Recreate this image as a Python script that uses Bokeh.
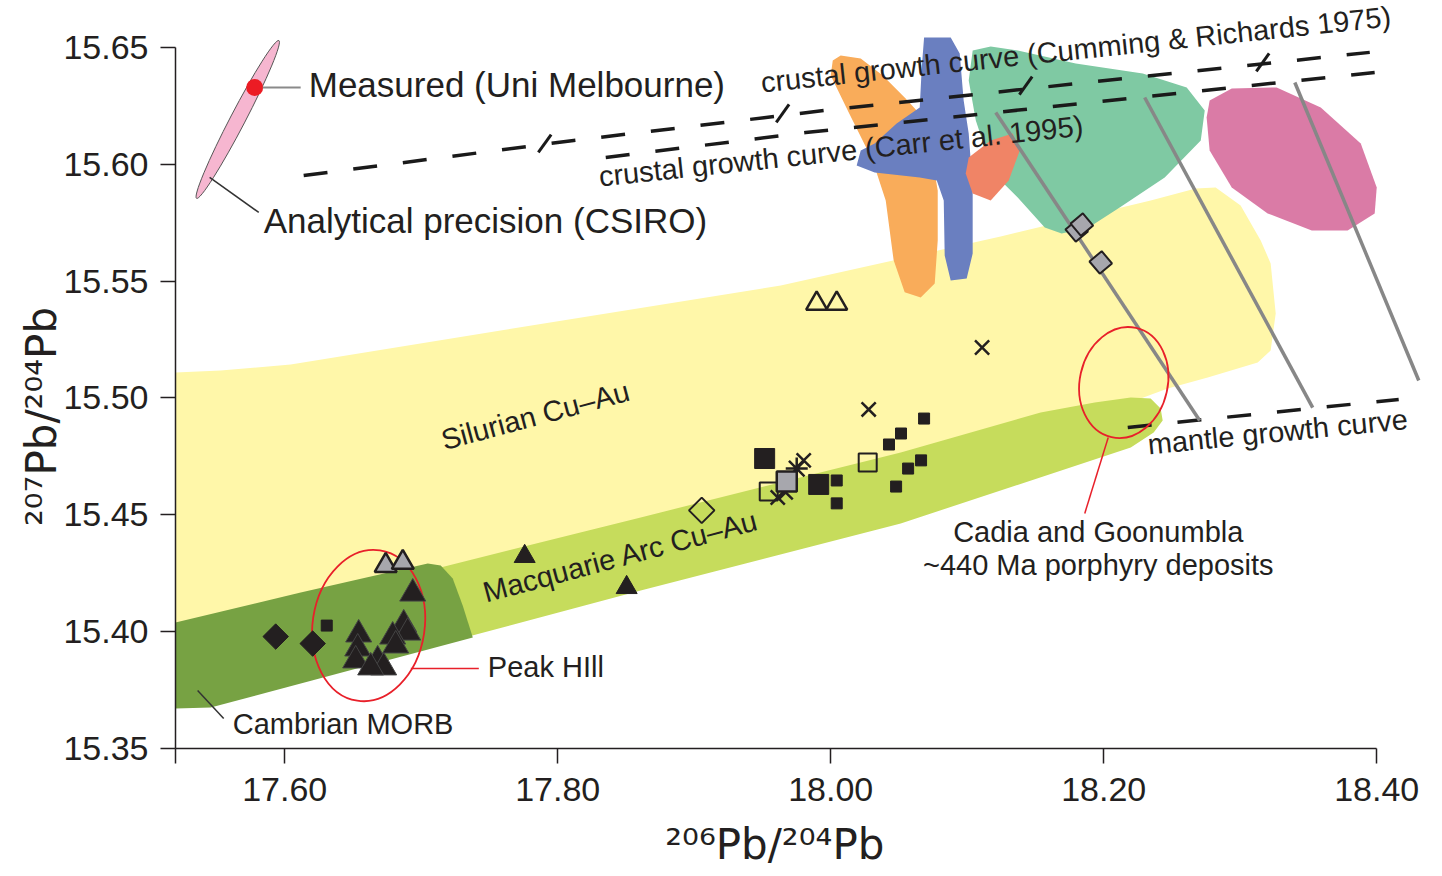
from bokeh.plotting import figure
from bokeh.models import Range1d, FixedTicker, CustomJSTickFormatter, Label
from bokeh.embed import file_html
from bokeh.resources import INLINE

# ---------------- data (206Pb/204Pb , 207Pb/204Pb) ----------------
x_ticks = [17.52, 17.60, 17.80, 18.00, 18.20, 18.40]
y_ticks = [15.35, 15.40, 15.45, 15.50, 15.55, 15.60, 15.65]

# fields
silurian_x = [17.52, 17.5531, 17.6044, 17.7582, 17.9634, 18.1245, 18.2344, 18.2674, 18.2820, 18.3003,
              18.3150, 18.3223, 18.3260, 18.3223, 18.3128, 18.2762, 18.2469, 18.2271, 18.1245, 17.9049,
              17.7363, 17.52]
silurian_y = [15.5109, 15.5118, 15.5143, 15.5289, 15.5481, 15.5691, 15.5845, 15.5897, 15.5901, 15.5824,
              15.5674, 15.5576, 15.5362, 15.5203, 15.5152, 15.5088, 15.5041, 15.4998, 15.4818, 15.4476,
              15.4219, 15.3962]
macq_x = [17.6850, 17.8608, 18.0513, 18.1538, 18.1934, 18.2198, 18.2344, 18.2417, 18.2432, 18.2366,
          18.2198, 18.0513, 17.8608, 17.6850]
macq_y = [15.4232, 15.4489, 15.4767, 15.4938, 15.4981, 15.5002, 15.4998, 15.4955, 15.4904, 15.4852,
          15.4788, 15.4463, 15.4176, 15.3902]
morb_x = [17.52, 17.6117, 17.7048, 17.7143, 17.7231, 17.7304, 17.7378, 17.5458, 17.52]
morb_y = [15.4039, 15.4168, 15.4292, 15.4283, 15.4228, 15.4112, 15.3975, 15.3675, 15.3671]
orange_x = [18.0073, 18.0220, 18.0381, 18.0549, 18.0696, 18.0784, 18.0784, 18.0762, 18.0659, 18.0542,
            18.0461, 18.0403, 18.0307, 18.0132, 18.0000, 18.0015]
orange_y = [15.6466, 15.6453, 15.6380, 15.6282, 15.6188, 15.5888, 15.5674, 15.5490, 15.5430, 15.5452,
            15.5589, 15.5845, 15.6016, 15.6222, 15.6380, 15.6444]
blue_x = [18.0684, 18.0879, 18.0945, 18.0974, 18.1011, 18.1040, 18.1040, 18.0996, 18.0879, 18.0835,
          18.0828, 18.0777, 18.0652, 18.0322, 18.0190, 18.0220, 18.0322, 18.0483, 18.0652, 18.0667]
blue_y = [15.6543, 15.6543, 15.6474, 15.6273, 15.6132, 15.5901, 15.5618, 15.5511, 15.5503, 15.5610,
          15.5845, 15.5931, 15.5944, 15.5965, 15.5995, 15.6059, 15.6089, 15.6175, 15.6243, 15.6414]
red_x = [18.1011, 18.1172, 18.1333, 18.1385, 18.1304, 18.1172, 18.1040, 18.0989]
red_y = [15.6029, 15.6102, 15.6132, 15.6059, 15.5931, 15.5845, 15.5875, 15.5961]
mint_x = [18.1040, 18.1172, 18.1370, 18.1795, 18.2286, 18.2608, 18.2740, 18.2711, 18.2447, 18.2117,
          18.1890, 18.1692, 18.1568, 18.1370, 18.1245, 18.1136, 18.1063, 18.1011]
mint_y = [15.6487, 15.6504, 15.6487, 15.6431, 15.6389, 15.6329, 15.6230, 15.6102, 15.5944, 15.5815,
          15.5730, 15.5704, 15.5730, 15.5858, 15.5931, 15.6059, 15.6188, 15.6359]
pink_x = [18.2776, 18.2938, 18.3267, 18.3590, 18.3883, 18.4000, 18.3985, 18.3787, 18.3524, 18.3201,
          18.2938, 18.2776, 18.2754]
pink_y = [15.6273, 15.6324, 15.6329, 15.6243, 15.6089, 15.5901, 15.5790, 15.5717, 15.5717, 15.5790,
          15.5901, 15.6059, 15.6200]

# growth curves
cr_x = [17.6139, 17.8117, 17.9949, 18.3949]          # Cumming & Richards 1975
cr_y = [15.5952, 15.6102, 15.6230, 15.6479]
cr_tick_x = [17.7905, 17.9648, 18.1429, 18.3165]
cr_tick_y = [15.6089, 15.6218, 15.6337, 15.6436]
carr_x = [17.8352, 17.9817, 18.3985]                 # Carr et al. 1995
carr_y = [15.6029, 15.6136, 15.6393]
mantle_x = [18.2176, 18.4161]
mantle_y = [15.4874, 15.4994]
mix_x0 = [18.1209, 18.2300, 18.3400]
mix_y0 = [15.6222, 15.6286, 15.6350]
mix_x1 = [18.2703, 18.3531, 18.4308]
mix_y1 = [15.4904, 15.4959, 15.5075]

# samples
peak_tri_x = [17.6938, 17.6872, 17.6901, 17.6791, 17.6542, 17.6535, 17.6520, 17.6681, 17.6725, 17.6630, 17.6813]
peak_tri_y = [15.4163, 15.4031, 15.3996, 15.3979, 15.3988, 15.3928, 15.3877, 15.3877, 15.3847, 15.3847, 15.3941]
black_tri_x = [17.7758, 17.8505]
black_tri_y = [15.4322, 15.4189]
grey_tri_x = [17.6740, 17.6865]
grey_tri_y = [15.4283, 15.4296]
open_tri_x = [17.9897, 18.0044]
open_tri_y = [15.5404, 15.5404]
black_dia_x = [17.5934, 17.6205]
black_dia_y = [15.3979, 15.3949]
open_dia_x = [17.9055]
open_dia_y = [15.4519]
grey_dia_x = [18.1802, 18.1840, 18.1978]
grey_dia_y = [15.5717, 15.5742, 15.5580]
big_sq_x = [17.9516, 17.9912]
big_sq_y = [15.4741, 15.4630]
grey_sq_x = [17.9678]
grey_sq_y = [15.4643]
open_sq_x = [17.9546, 18.0271]
open_sq_y = [15.4600, 15.4724]
small_sq_x = [17.6308, 18.0684, 18.0515, 18.0427, 18.0662, 18.0567, 18.0479, 18.0044, 18.0044]
small_sq_y = [15.4026, 15.4912, 15.4848, 15.4801, 15.4733, 15.4698, 15.4621, 15.4647, 15.4549]
cross_x = [18.1109, 18.0278, 17.9802, 17.9670, 17.9612]
cross_y = [15.5216, 15.4951, 15.4733, 15.4596, 15.4574]
star_x = [17.9751]
star_y = [15.4698]

# precision inset
precision_x = [17.5656]
precision_y = [15.6192]
measured_x = [17.5780]
measured_y = [15.6329]

# circled groups
peak_ell_x = [17.6615]
peak_ell_y = [15.4026]
cadia_ell_x = [18.2147]
cadia_ell_y = [15.5066]

# leader lines (x0, y0, x1, y1)
lead_grey = ([17.5839], [15.6329], [17.6117], [15.6329])
lead_dark = ([17.5450, 17.5362], [15.5944, 15.3748], [17.5810, 17.5553], [15.5794, 15.3628])
lead_red = ([17.6924, 18.2033], [15.3842, 15.4831], [17.7422, 18.1861], [15.3842, 15.4506])

# annotations: text, x, y (baseline anchor), angle(deg), size, align
notes = [
    ("Measured (Uni Melbourne)", 17.6176, 15.6286, 0, "35px", "left"),
    ("Analytical precision (CSIRO)", 17.5846, 15.5704, 0, "35px", "left"),
    ("crustal growth curve (Cumming & Richards 1975)", 17.9489, 15.6294, 6.0, "29px", "left"),
    ("crustal growth curve (Carr et al. 1995)", 17.8302, 15.5892, 6.0, "29px", "left"),
    ("Silurian Cu\u2013Au", 17.7151, 15.4762, 15.0, "29px", "left"),
    ("Macquarie Arc Cu\u2013Au", 17.7458, 15.4110, 15.0, "29px", "left"),
    ("mantle growth curve", 18.2322, 15.4745, 5.6, "29px", "left"),
    ("Peak HIll", 17.7488, 15.3795, 0, "29px", "left"),
    ("Cambrian MORB", 17.5619, 15.3551, 0, "29px", "left"),
    ("Cadia and Goonumbla", 18.1960, 15.4369, 0, "29px", "center"),
    ("~440 Ma porphyry deposits", 18.1960, 15.4228, 0, "29px", "center"),
]

x_title = "\u00b2\u2070\u2076Pb/\u00b2\u2070\u2074Pb"
y_title = "\u00b2\u2070\u2077Pb/\u00b2\u2070\u2074Pb"

FONT = "Liberation Sans"
TITLE_FONT = "DejaVu Sans"
INK = "#231f20"

p = figure(frame_width=1249, frame_height=748, min_border_left=175, min_border_right=10,
           min_border_top=0, min_border_bottom=126,
           x_range=Range1d(17.52, 18.435), y_range=Range1d(15.35, 15.6701),
           output_backend="svg", toolbar_location=None, tools="")
p.outline_line_color = None
p.xgrid.visible = False
p.ygrid.visible = False
p.background_fill_color = "white"

for ax in (p.xaxis[0], p.yaxis[0]):
    ax.axis_line_color = INK
    ax.axis_line_width = 1.5
    ax.major_tick_line_color = INK
    ax.major_tick_line_width = 1.5
    ax.major_tick_out = 15
    ax.major_tick_in = 0
    ax.minor_tick_line_color = None
    ax.major_label_text_font = FONT
    ax.major_label_text_font_size = "34px"
    ax.major_label_text_color = INK
    ax.axis_label_text_font = TITLE_FONT
    ax.axis_label_text_font_size = "42px"
    ax.axis_label_text_font_style = "normal"
    ax.axis_label_text_color = INK
p.xaxis[0].bounds = (17.52, 18.40)
p.yaxis[0].bounds = (15.35, 15.65)
p.xaxis[0].ticker = FixedTicker(ticks=x_ticks)
p.yaxis[0].ticker = FixedTicker(ticks=y_ticks)
p.xaxis[0].formatter = CustomJSTickFormatter(code="return tick < 17.55 ? '' : tick.toFixed(2);")
p.yaxis[0].formatter = CustomJSTickFormatter(code="return tick.toFixed(2);")
p.xaxis[0].major_label_standoff = 14
p.yaxis[0].major_label_standoff = 12
# trailing em/thin spaces shift the centred titles to where the reference has them
p.xaxis[0].axis_label = x_title + "\u2003\u2009"
p.yaxis[0].axis_label = y_title + "\u2003\u2003"
p.xaxis[0].axis_label_standoff = 16
p.yaxis[0].axis_label_standoff = -6

# fields
p.patch(silurian_x, silurian_y, fill_color="#fff7a9", line_color=None)
p.patch(macq_x, macq_y, fill_color="#c6dc5c", line_color=None)
p.patch(morb_x, morb_y, fill_color="#77a243", line_color=None)
p.patch(orange_x, orange_y, fill_color="#f9ac5a", line_color=None)
p.patch(mint_x, mint_y, fill_color="#7fc9a3", line_color=None)
p.patch(blue_x, blue_y, fill_color="#6a7fc0", line_color=None)
p.patch(red_x, red_y, fill_color="#f08466", line_color=None)
p.patch(pink_x, pink_y, fill_color="#da7ba6", line_color=None)

# growth curves
p.line(cr_x, cr_y, line_color="#1a1a1a", line_width=3.5, line_dash="24 26")
p.line(carr_x, carr_y, line_color="#1a1a1a", line_width=3.5, line_dash="24 26")
p.line(mantle_x, mantle_y, line_color="#1a1a1a", line_width=3.5, line_dash="24 26")
p.scatter(cr_tick_x, cr_tick_y, marker="dash", size=22, angle=0.95, line_color="#1a1a1a", line_width=3)
p.segment(mix_x0, mix_y0, mix_x1, mix_y1, line_color="#878787", line_width=3.5)

# precision inset
p.ellipse(precision_x, precision_y, width=178, height=15, angle=1.09,
          width_units="screen", height_units="screen",
          fill_color="#f6b6d0", line_color="#555555", line_width=1)
p.scatter(measured_x, measured_y, marker="circle", size=17, fill_color="#ec1c24", line_color=None)

# leader lines
p.segment(*lead_grey, line_color="#8a8a8a", line_width=2)
p.segment(*lead_dark, line_color="#333333", line_width=1.5)
p.segment(*lead_red, line_color="#e8202a", line_width=1.5)

# circled groups
p.ellipse(peak_ell_x, peak_ell_y, width=112, height=152, angle=-0.15,
          width_units="screen", height_units="screen",
          fill_color=None, line_color="#e8202a", line_width=1.8)
p.ellipse(cadia_ell_x, cadia_ell_y, width=88, height=112, angle=-0.22,
          width_units="screen", height_units="screen",
          fill_color=None, line_color="#e8202a", line_width=1.8)

# samples
p.scatter(small_sq_x, small_sq_y, marker="square", size=11, fill_color=INK, line_color=INK)
p.scatter(big_sq_x, big_sq_y, marker="square", size=20, fill_color=INK, line_color=INK)
p.scatter(open_sq_x, open_sq_y, marker="square", size=18, fill_color=None, line_color=INK, line_width=2)
p.scatter(cross_x, cross_y, marker="x", size=20, line_color=INK, line_width=2.5)
p.scatter(star_x, star_y, marker="asterisk", size=22, line_color=INK, line_width=2.5)
p.scatter(grey_sq_x, grey_sq_y, marker="square", size=20, fill_color="#a7a7ad", line_color=INK, line_width=2.5)
p.scatter(open_dia_x, open_dia_y, marker="square", size=18, angle=0.785, fill_color=None, line_color=INK, line_width=2)
p.scatter(grey_dia_x, grey_dia_y, marker="square", size=16, angle=0.70, fill_color="#a7a7ad", line_color=INK, line_width=2)
p.scatter(black_dia_x, black_dia_y, marker="square", size=18, angle=0.785, fill_color=INK, line_color=INK)
p.scatter(peak_tri_x, peak_tri_y, marker="triangle", size=26, fill_color=INK, line_color="#444444", line_width=1)
p.scatter(black_tri_x, black_tri_y, marker="triangle", size=21, fill_color=INK, line_color=INK)
p.scatter(grey_tri_x, grey_tri_y, marker="triangle", size=22, fill_color="#a7a7ad", line_color=INK, line_width=2.5)
p.scatter(open_tri_x, open_tri_y, marker="triangle", size=21, fill_color=None, line_color=INK, line_width=2.5)

for txt, x, y, ang, size, align in notes:
    p.add_layout(Label(x=x, y=y, y_offset=13, text=txt, angle=ang, angle_units="deg",
                       text_font=FONT, text_font_size=size, text_color=INK,
                       text_align=align, text_baseline="alphabetic"))

open("out.html", "w").write(file_html(p, INLINE))
